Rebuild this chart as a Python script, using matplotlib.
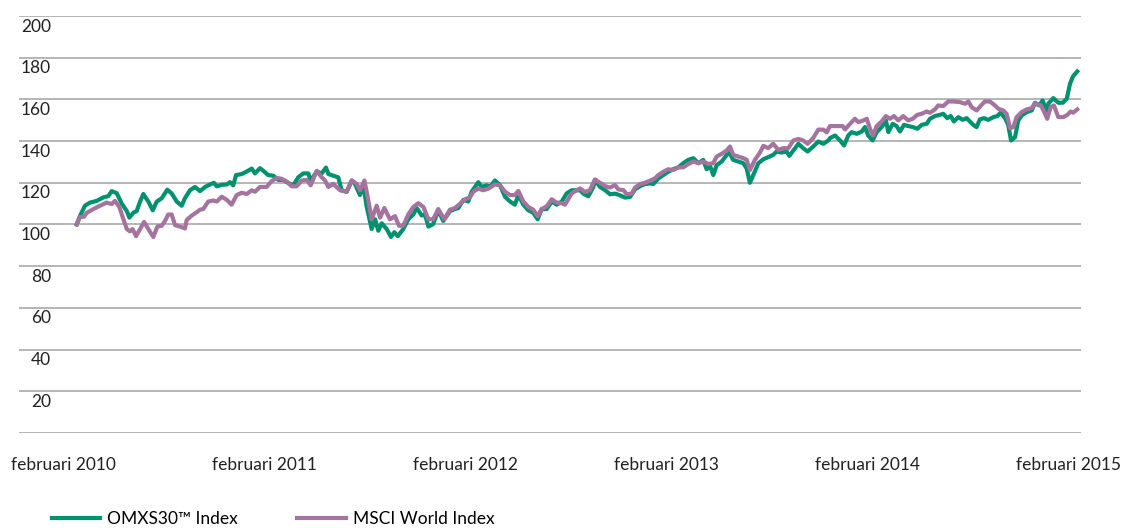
import matplotlib
matplotlib.use("Agg")
import matplotlib.pyplot as plt

plt.rcParams['font.family'] = ['Lato', 'DejaVu Sans']

# years since februari 2010
omx_t = [0.068, 0.084, 0.109, 0.134, 0.167, 0.200, 0.225, 0.242, 0.267, 0.292,
         0.317, 0.330, 0.349, 0.366, 0.383, 0.399, 0.424, 0.446, 0.466, 0.491,
         0.518, 0.540, 0.565, 0.590, 0.606, 0.631, 0.656, 0.681, 0.706, 0.731,
         0.750, 0.764, 0.789, 0.814, 0.830, 0.846, 0.860, 0.888, 0.913, 0.938,
         0.954, 0.979, 0.996, 1.020, 1.045, 1.070, 1.095, 1.120, 1.145, 1.169,
         1.194, 1.219, 1.231, 1.261, 1.286, 1.307, 1.319, 1.343, 1.368, 1.385,
         1.410, 1.435, 1.451, 1.476, 1.493, 1.509, 1.534, 1.551, 1.567, 1.584,
         1.609, 1.630, 1.647, 1.664, 1.691, 1.716, 1.741, 1.758, 1.783, 1.799,
         1.816, 1.840, 1.865, 1.890, 1.923, 1.948, 1.965, 1.990, 2.014, 2.031,
         2.064, 2.081, 2.106, 2.122, 2.147, 2.172, 2.197, 2.222, 2.246, 2.263,
         2.288, 2.313, 2.337, 2.359, 2.379, 2.404, 2.429, 2.454, 2.479, 2.503,
         2.528, 2.553, 2.570, 2.586, 2.611, 2.636, 2.644, 2.669, 2.694, 2.719,
         2.744, 2.768, 2.793, 2.818, 2.843, 2.868, 2.893, 2.917, 2.934, 2.959,
         2.984, 3.008, 3.033, 3.058, 3.083, 3.108, 3.133, 3.158, 3.182, 3.199,
         3.216, 3.232, 3.249, 3.274, 3.299, 3.312, 3.331, 3.356, 3.381, 3.398,
         3.414, 3.431, 3.456, 3.481, 3.505, 3.530, 3.547, 3.572, 3.597, 3.610,
         3.630, 3.655, 3.679, 3.701, 3.729, 3.754, 3.779, 3.804, 3.812, 3.837,
         3.862, 3.882, 3.903, 3.920, 3.945, 3.970, 3.986, 4.002, 4.024, 4.044,
         4.069, 4.090, 4.102, 4.124, 4.143, 4.160, 4.180, 4.201, 4.226, 4.246,
         4.268, 4.293, 4.309, 4.334, 4.359, 4.375, 4.395, 4.412, 4.428, 4.450,
         4.472, 4.491, 4.511, 4.524, 4.541, 4.557, 4.577, 4.599, 4.624, 4.644,
         4.660, 4.682, 4.698, 4.712, 4.732, 4.748, 4.765, 4.790, 4.815, 4.831,
         4.852, 4.869, 4.889, 4.897, 4.922, 4.947, 4.969, 4.989, 5.005, 5.021,
         5.041]
omx_v = [100, 104, 109, 110.5, 111.3, 113, 113.6, 116, 115, 110,
         106.4, 103.3, 105.6, 106.4, 111, 114.6, 111, 106.8, 111, 112.6,
         116.7, 114.9, 111, 109, 112.6, 116.4, 118, 116, 118, 119.2,
         120, 118.3, 119, 119.2, 120.3, 118.8, 123.7, 124.2, 125.4, 126.8,
         124.5, 127, 125.7, 123.7, 123.4, 121.4, 121.4, 119.8, 118.8, 122.6,
         124.5, 124.5, 121, 125.4, 124.5, 127.3, 124.2, 123.4, 122.6, 116.4,
         115.7, 121.1, 119.5, 114.1, 118.8, 108.7, 97.8, 102.5, 97, 100.6,
         97.8, 94, 96.3, 94.4, 97.8, 102.5, 104.8, 107.9, 104.3, 104.8,
         99, 100.2, 106.8, 101.7, 106.4, 107.4, 107.9, 111.8, 111, 115.7,
         120.3, 118, 118.8, 118, 121.1, 118.8, 113.3, 111, 109.5, 114.1,
         109.5, 106.8, 105.6, 102.5, 107.4, 107.4, 111, 109.5, 111, 114.9,
         116.4, 116.4, 116.4, 114.8, 113.5, 118, 121.3, 118, 116.5, 114.5,
         114.8, 114, 112.9, 113.2, 116.8, 118.4, 119.4, 119.7, 119.4, 122.1,
         123.7, 125.3, 126.5, 127.4, 129.4, 131, 131.8, 129.4, 131, 126.5,
         128.1, 123.7, 128.5, 130.2, 133.4, 134.5, 131, 130.2, 129.4, 126.9,
         120, 123.7, 129.4, 131.3, 132.3, 133.4, 135, 134.5, 135, 132.9,
         135.5, 138.7, 136.6, 135, 137.4, 139.8, 138.7, 140.3, 141.4, 142.7,
         140.3, 137.9, 142.7, 144.3, 143.5, 144.6, 146.7, 142.7, 140.3, 144.3,
         146.7, 149.9, 144.3, 148.3, 147.2, 144.6, 147.8, 147.2, 146.7, 145.9,
         147.8, 148.3, 150.7, 152, 152.6, 153.1, 151, 152, 149.4, 151.5,
         150.2, 151, 149.1, 147.8, 146.7, 150.4, 151, 150.2, 151.5, 152,
         153.6, 151, 147.8, 140.3, 141.9, 149.9, 152.3, 153.9, 154.7, 158.4,
         157.1, 159.5, 154.2, 157.9, 160.6, 158.4, 158.4, 160.3, 167.5, 171.2,
         173.4]

msci_t = [0.068, 0.084, 0.104, 0.118, 0.151, 0.184, 0.217, 0.242, 0.258, 0.280,
          0.300, 0.317, 0.333, 0.346, 0.363, 0.383, 0.403, 0.424, 0.449, 0.469,
          0.491, 0.507, 0.523, 0.540, 0.557, 0.581, 0.606, 0.615, 0.640, 0.665,
          0.681, 0.697, 0.722, 0.747, 0.764, 0.789, 0.814, 0.838, 0.863, 0.888,
          0.913, 0.938, 0.954, 0.979, 1.012, 1.037, 1.062, 1.087, 1.112, 1.137,
          1.161, 1.186, 1.211, 1.231, 1.261, 1.286, 1.302, 1.319, 1.343, 1.377,
          1.410, 1.435, 1.460, 1.476, 1.498, 1.517, 1.534, 1.559, 1.576, 1.597,
          1.625, 1.650, 1.670, 1.691, 1.716, 1.741, 1.766, 1.791, 1.816, 1.840,
          1.865, 1.895, 1.923, 1.948, 1.973, 1.998, 2.023, 2.039, 2.064, 2.089,
          2.114, 2.147, 2.172, 2.197, 2.222, 2.246, 2.263, 2.288, 2.313, 2.337,
          2.359, 2.379, 2.404, 2.429, 2.454, 2.479, 2.495, 2.528, 2.553, 2.570,
          2.594, 2.619, 2.644, 2.669, 2.694, 2.719, 2.744, 2.760, 2.785, 2.802,
          2.827, 2.843, 2.868, 2.893, 2.917, 2.942, 2.959, 2.984, 3.008, 3.033,
          3.058, 3.083, 3.108, 3.133, 3.158, 3.182, 3.207, 3.232, 3.249, 3.274,
          3.299, 3.315, 3.331, 3.356, 3.381, 3.398, 3.414, 3.439, 3.464, 3.481,
          3.505, 3.530, 3.555, 3.580, 3.605, 3.630, 3.655, 3.679, 3.701, 3.729,
          3.754, 3.779, 3.796, 3.812, 3.845, 3.875, 3.887, 3.912, 3.936, 3.953,
          3.978, 3.995, 4.011, 4.027, 4.044, 4.069, 4.090, 4.110, 4.130, 4.152,
          4.176, 4.201, 4.223, 4.246, 4.268, 4.293, 4.309, 4.334, 4.350, 4.375,
          4.400, 4.425, 4.458, 4.483, 4.500, 4.516, 4.541, 4.566, 4.582, 4.607,
          4.632, 4.649, 4.673, 4.690, 4.707, 4.723, 4.740, 4.765, 4.790, 4.815,
          4.831, 4.847, 4.861, 4.881, 4.892, 4.909, 4.925, 4.947, 4.972, 4.992,
          5.009, 5.021, 5.041]
msci_v = [100, 103.6, 103.7, 105.6, 107.4, 109, 110.5, 109.8, 111.3, 108.4,
          102.5, 97.8, 96.7, 97.8, 94.4, 97.8, 101.2, 97.8, 94, 99,
          99.4, 101.7, 104.8, 104.8, 99.7, 99, 98.1, 102.2, 104.3, 105.9,
          107.1, 107.4, 111, 111.5, 111, 113.3, 111.8, 109.5, 114.1, 115.2,
          114.6, 116.4, 115.7, 118, 118, 120.8, 122.3, 121.9, 120.6, 118.3,
          118.3, 121.1, 121.4, 118.8, 125.7, 122.6, 121.1, 118, 119.5, 116.4,
          115.7, 121.1, 119.5, 116.4, 121.1, 111.8, 102.5, 109, 103.3, 107.9,
          102.5, 104, 99.4, 99.4, 104.8, 108.4, 110.2, 108.4, 102.5, 102.5,
          107.4, 102.5, 107.1, 107.9, 109.9, 112.1, 113, 115.7, 117.2, 116.4,
          117.2, 119.2, 118.8, 115.7, 114.1, 114.1, 116.1, 111, 108.4, 107.1,
          104, 107.4, 108.7, 112.1, 110.5, 110.2, 109.5, 114.9, 116.4, 117.3,
          115.6, 116.5, 121.6, 120, 118.4, 117.7, 118.9, 116.8, 116.5, 114.5,
          114.8, 117.7, 119.4, 120, 121, 122.1, 123.7, 125.3, 126.5, 126.1,
          127.4, 127.4, 129, 130.2, 129.4, 130.2, 129, 129.4, 132.6, 133.9,
          135.5, 137.4, 133.4, 132.6, 131.8, 131, 126.1, 131, 134.5, 137.7,
          136.6, 138.7, 135.8, 136.6, 136.6, 140.3, 141, 140.3, 138.7, 141.5,
          145.5, 145.5, 144.2, 147.2, 147.2, 147.2, 145.6, 148.3, 150.7, 149.1,
          149.9, 150.7, 145.9, 142.7, 147.2, 149.4, 152, 150.7, 152, 149.9,
          152, 149.9, 150.7, 152.6, 153.1, 154.2, 153.6, 155.2, 157.1, 156.8,
          159, 159, 158.7, 157.9, 159, 156.3, 154.7, 157.4, 159, 159,
          157.1, 155.5, 154.7, 153.1, 146.2, 146.7, 151.5, 153.9, 155.2, 155.8,
          158.2, 157.4, 157.1, 153.1, 150.7, 156.3, 157.1, 151.5, 151.5, 152.6,
          154.2, 153.6, 155.2]

x_ticks = [0, 1, 2, 3, 4, 5]
x_labels = ['februari 2010', 'februari 2011', 'februari 2012',
            'februari 2013', 'februari 2014', 'februari 2015']
y_values = [20, 40, 60, 80, 100, 120, 140, 160, 180, 200]

fig = plt.figure(figsize=(11.22, 5.28), dpi=100)
ax = fig.add_axes([0.0169, 0.18, 0.9466, 0.7897])

for v in [0] + y_values:
    ax.axhline(v, color='#a9a9a9', lw=1.2, zorder=1)
    if v > 0:
        ax.text(0.0301, v - 1.2, str(v), transform=ax.get_yaxis_transform(),
                ha='right', va='top', fontsize=12.5, color='#222222')

ax.plot(omx_t, omx_v, color='#00916e', lw=3, label='OMXS30™ Index', zorder=3)
ax.plot(msci_t, msci_v, color='#a4739e', lw=3, label='MSCI World Index', zorder=4)

ax.set_xlim(-0.219, 5.06)
ax.set_ylim(0, 200)
ax.set_yticks([])
ax.set_xticks(x_ticks)
ax.set_xticklabels(x_labels, fontsize=12.5, color='#222222')
ax.tick_params(axis='x', length=0, pad=17)
for s in ax.spines.values():
    s.set_visible(False)

fig.legend(loc='center left', bbox_to_anchor=(0.046, 0.017), ncol=2,
           frameon=False, fontsize=12.5, handlelength=2.8, handletextpad=0.4,
           columnspacing=3.4, borderpad=0, borderaxespad=0)

fig.savefig('out.png', dpi=100)
